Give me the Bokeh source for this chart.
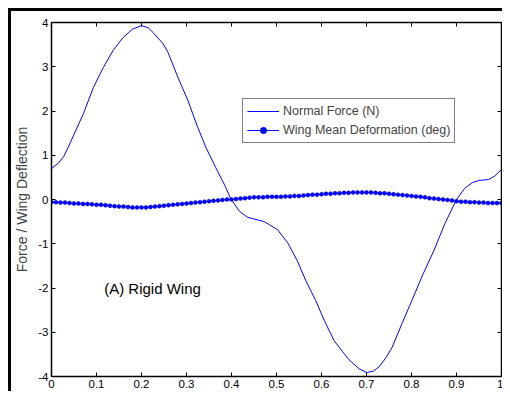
import numpy as np
from bokeh.plotting import figure
from bokeh.models import (LinearAxis, FixedTicker, Legend, LegendItem, Label, Range1d)
from bokeh.embed import file_html
from bokeh.resources import INLINE

# ---- data ----
force_x = [0.000, 0.015, 0.027, 0.038, 0.049, 0.071, 0.093, 0.115, 0.137, 0.159, 0.180, 0.200,
           0.215, 0.226, 0.248, 0.259, 0.281, 0.303, 0.325, 0.343, 0.365, 0.385,
           0.398, 0.418, 0.435, 0.450, 0.473, 0.502, 0.525, 0.546, 0.565, 0.587,
           0.606, 0.628, 0.647, 0.661, 0.684, 0.700, 0.715, 0.728, 0.743, 0.757,
           0.779, 0.801, 0.825, 0.850, 0.874, 0.900, 0.918, 0.935, 0.949, 0.971,
           0.985, 1.000]
force_y = [0.70, 0.82, 0.97, 1.20, 1.45, 1.94, 2.53, 2.98, 3.37, 3.66, 3.85, 3.93,
           3.88, 3.77, 3.52, 3.32, 2.76, 2.24, 1.63, 1.18, 0.72, 0.32,
           0.02, -0.27, -0.40, -0.44, -0.50, -0.68, -0.98, -1.38, -1.83, -2.28,
           -2.73, -3.19, -3.44, -3.62, -3.83, -3.91, -3.88, -3.78, -3.58, -3.34,
           -2.80, -2.28, -1.70, -1.15, -0.55, 0.00, 0.25, 0.38, 0.43, 0.45,
           0.53, 0.68]

deform_x = [i / 100 for i in range(101)]
deform_y = [-0.06, -0.06, -0.07, -0.07, -0.08, -0.09, -0.09, -0.10, -0.10, -0.11,
            -0.12, -0.12, -0.13, -0.14, -0.15, -0.16, -0.16, -0.17, -0.18, -0.18,
            -0.18, -0.18, -0.17, -0.16, -0.15, -0.14, -0.13, -0.12, -0.11, -0.10,
            -0.09, -0.08, -0.07, -0.06, -0.05, -0.04, -0.03, -0.02, -0.01, 0.00,
            0.00, 0.01, 0.02, 0.03, 0.04, 0.05, 0.05, 0.05, 0.06, 0.06,
            0.06, 0.06, 0.07, 0.07, 0.08, 0.08, 0.09, 0.10, 0.11, 0.11,
            0.12, 0.13, 0.13, 0.14, 0.14, 0.15, 0.15, 0.16, 0.16, 0.16,
            0.16, 0.16, 0.15, 0.14, 0.14, 0.13, 0.12, 0.11, 0.10, 0.09,
            0.08, 0.07, 0.06, 0.05, 0.03, 0.02, 0.01, 0.00, -0.01, -0.02,
            -0.04, -0.05, -0.05, -0.06, -0.06, -0.07, -0.07, -0.08, -0.08, -0.08,
            -0.08]

x_ticks = [0, 0.1, 0.2, 0.3, 0.4, 0.5, 0.6, 0.7, 0.8, 0.9, 1]
x_tick_labels = ["0", "0.1", "0.2", "0.3", "0.4", "0.5", "0.6", "0.7", "0.8", "0.9", "1"]
y_ticks = [-4, -3, -2, -1, 0, 1, 2, 3, 4]
y_tick_labels = ["-4", "-3", "-2", "-1", "0", "1", "2", "3", "4"]

series_names = ["Normal Force (N)", "Wing Mean Deformation (deg)"]
y_label = "Force / Wing Deflection"
annotation_text = "(A) Rigid Wing"

FONT = "Liberation Sans"
BLUE = "#0000FF"

p = figure(width=495, height=383, output_backend="svg", toolbar_location=None,
           x_range=Range1d(0, 1), y_range=Range1d(-4, 4),
           min_border_left=37, min_border_right=5, min_border_top=11, min_border_bottom=18,
           x_axis_location=None, y_axis_location=None)
p.styles = {"border-left": "3px solid black", "border-top": "3px solid black"}
p.grid.visible = False
p.outline_line_color = "black"
p.outline_line_width = 1
p.background_fill_color = "white"
p.border_fill_color = "white"

def make_axis(place, ticks, labels, show):
    ax = LinearAxis(ticker=FixedTicker(ticks=ticks))
    if show:
        ax.major_label_overrides = {t: l for t, l in zip(ticks, labels)}
    else:
        ax.major_label_overrides = {t: "" for t in ticks}
    ax.major_tick_in = 4
    ax.major_tick_out = 0
    ax.minor_tick_line_color = None
    ax.axis_line_color = "black"
    ax.axis_line_width = 1.5
    ax.major_label_text_font = FONT
    ax.major_label_text_font_size = "11.5px"
    ax.major_label_standoff = 3 if show else 0
    ax.major_label_text_color = "black"
    p.add_layout(ax, place)
    return ax

bx = make_axis("below", x_ticks, x_tick_labels, True)
ly = make_axis("left", y_ticks, y_tick_labels, True)
make_axis("above", x_ticks, x_tick_labels, False)
make_axis("right", y_ticks, y_tick_labels, False)
ly.axis_label = y_label
ly.axis_label_text_font = FONT
ly.axis_label_text_font_size = "14px"
ly.axis_label_text_font_style = "normal"
ly.axis_label_standoff = 5

r_force = p.line(force_x, force_y, line_color=BLUE, line_width=1)
r_def_line = p.line(deform_x, deform_y, line_color=BLUE, line_width=1)
r_def_pts = p.scatter(deform_x, deform_y, marker="circle", size=4,
                      fill_color=BLUE, line_color=BLUE, line_width=0.5)

legend = Legend(items=[LegendItem(label=series_names[0], renderers=[r_force]),
                       LegendItem(label=series_names[1], renderers=[r_def_line, r_def_pts])],
                location=(191, 233))
legend.border_line_color = "black"
legend.border_line_width = 1
legend.background_fill_color = "white"
legend.background_fill_alpha = 1
legend.label_text_font = FONT
legend.label_text_font_size = "12.5px"
legend.glyph_width = 32
legend.glyph_height = 16
legend.label_height = 16
legend.label_standoff = 4
legend.padding = 4
legend.spacing = 3
legend.margin = 0
p.add_layout(legend, "center")

p.add_layout(Label(x=0.117, y=-2, text=annotation_text, text_font=FONT,
                   text_font_size="15px", text_baseline="middle", text_color="black"))

html = file_html(p, INLINE)
html = html.replace("</head>",
                    "<style>html,body{overflow:hidden !important}body{margin:8px !important}</style></head>", 1)
open("out.html", "w").write(html)
